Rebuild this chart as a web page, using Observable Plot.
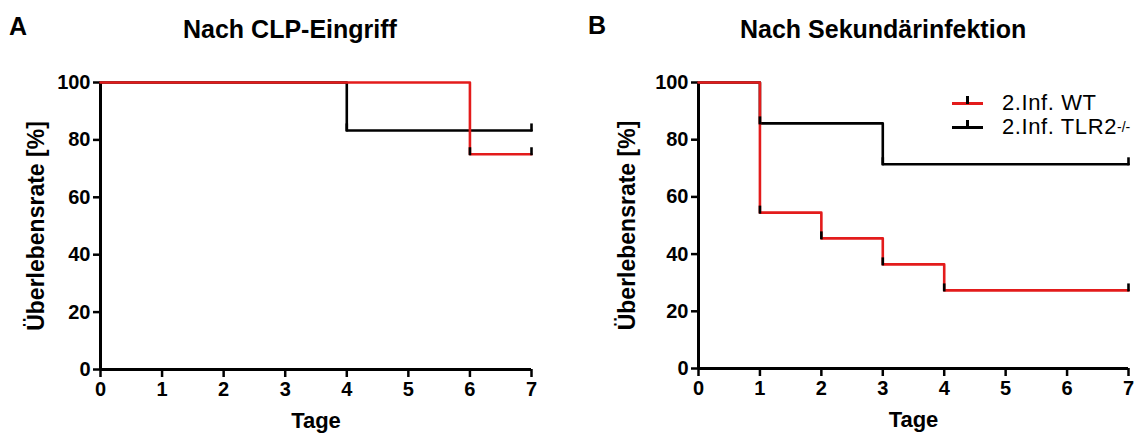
<!DOCTYPE html>
<html>
<head>
<meta charset="utf-8">
<script src="https://cdn.jsdelivr.net/npm/d3@7"></script>
<script src="https://cdn.jsdelivr.net/npm/@observablehq/plot@0.6"></script>
<style>
  html, body { margin: 0; padding: 0; background: #fff; }
  body { font-family: "Liberation Sans", Arial, sans-serif; }
  #wrap { position: relative; width: 1138px; height: 434px; overflow: hidden; }
  .panel { position: absolute; top: 0; }
  .letter { position: absolute; font-weight: bold; font-size: 25px; line-height: 1; color: #000; }
  .title { position: absolute; font-weight: bold; font-size: 25px; line-height: 1; color: #000; white-space: nowrap; }
  .legend { position: absolute; left: 952px; top: 91px; font-size: 22px; letter-spacing: 0.6px; color: #000; line-height: 24px; white-space: nowrap; }
  .legend .item { display: flex; align-items: center; height: 24px; }
  .legend .sw { position: relative; width: 31px; height: 3px; margin-right: 19px; flex: none; }
  .legend .sw::after { content: ""; position: absolute; left: 14px; top: -6px; width: 2.5px; height: 8px; background: #000; }
  .legend sup { font-size: 14px; vertical-align: 10px; line-height: 0; letter-spacing: 0; }
</style>
</head>
<body>
<div id="wrap">
  <div class="letter" style="left:9px; top:14px;">A</div>
  <div class="letter" style="left:588px; top:13px;">B</div>
  <div class="title" style="left:183px; top:17px;">Nach CLP-Eingriff</div>
  <div class="title" style="left:740px; top:17px;">Nach Sekundärinfektion</div>
  <div id="pA" class="panel" style="left:0px;"></div>
  <div id="pB" class="panel" style="left:569px;"></div>
  <div class="legend" id="legend"></div>
</div>
<script>
// ---- data ----
const xTicks = [0, 1, 2, 3, 4, 5, 6, 7];
const yTicks = [0, 20, 40, 60, 80, 100];
const xLabel = "Tage";
const yLabel = "Überlebensrate [%]";

// Panel A: Nach CLP-Eingriff
const aWtTime = [0, 6, 7];
const aWtSurv = [100, 75, 75];
const aKoTime = [0, 4, 7];
const aKoSurv = [100, 83.3, 83.3];

// Panel B: Nach Sekundärinfektion
const bWtTime = [0, 1, 2, 3, 4, 7];
const bWtSurv = [100, 54.5, 45.5, 36.4, 27.3, 27.3];
const bKoTime = [0, 1, 3, 7];
const bKoSurv = [100, 85.7, 71.4, 71.4];

const seriesNames = ["2.Inf. WT", "2.Inf. TLR2"];
const seriesColors = ["#e31b1b", "#000000"];

// ---- helpers ----
function toRows(times, surv) { return times.map((t, i) => ({t, s: surv[i]})); }
function censorRows(times, surv) { return times.slice(1).map((t, i) => ({t, s: surv[i + 1]})); }

const tickSymbol = {
  draw(context) { context.moveTo(0, 1); context.lineTo(0, -7); }
};

function makePanel(wt, ko, margins, yLabelDx) {
  const wtRows = toRows(wt[0], wt[1]);
  const koRows = toRows(ko[0], ko[1]);
  const cens = censorRows(ko[0], ko[1]).concat(censorRows(wt[0], wt[1]));
  return Plot.plot({
    width: 569,
    height: 434,
    marginLeft: margins[0],
    marginRight: margins[1],
    marginTop: 82,
    marginBottom: margins[2],
    style: {fontFamily: "'Liberation Sans', Arial, sans-serif", fontWeight: "bold", color: "#000", background: "transparent", overflow: "visible"},
    x: {domain: [0, 7], axis: null},
    y: {domain: [0, 100], axis: null},
    marks: [
      Plot.axisX(xTicks, {tickSize: 8, tickPadding: 4, fontSize: 20, fontWeight: "bold", strokeWidth: 2.5, label: null, tickFormat: d => String(d)}),
      Plot.axisY(yTicks, {tickSize: 7, tickPadding: 3, fontSize: 20, fontWeight: "bold", strokeWidth: 2.5, label: null, tickFormat: d => String(d)}),
      Plot.ruleX([0], {strokeWidth: 3}),
      Plot.ruleY([0], {strokeWidth: 3}),
      Plot.line(koRows, {x: "t", y: "s", curve: "step-after", stroke: seriesColors[1], strokeWidth: 2.6}),
      Plot.line(wtRows, {x: "t", y: "s", curve: "step-after", stroke: seriesColors[0], strokeWidth: 2.6}),
      Plot.dot(cens, {x: "t", y: "s", symbol: tickSymbol, fill: "none", stroke: "#000", strokeWidth: 2.6}),
      Plot.text([xLabel], {frameAnchor: "bottom", dy: 58, fontSize: 22, fontWeight: "bold"}),
      Plot.text([yLabel], {frameAnchor: "left", textAnchor: "middle", dx: yLabelDx, rotate: -90, fontSize: 23, fontWeight: "bold"})
    ]
  });
}

document.getElementById("pA").append(
  makePanel([aWtTime, aWtSurv], [aKoTime, aKoSurv], [100, 38, 65], -64)
);
document.getElementById("pB").append(
  makePanel([bWtTime, bWtSurv], [bKoTime, bKoSurv], [129, 10, 66], -71)
);

// legend
const leg = document.getElementById("legend");
seriesNames.forEach((name, i) => {
  const item = document.createElement("div");
  item.className = "item";
  const sw = document.createElement("span");
  sw.className = "sw";
  sw.style.background = seriesColors[i];
  item.append(sw);
  const txt = document.createElement("span");
  txt.textContent = name;
  item.append(txt);
  if (i === 1) {
    const sup = document.createElement("sup");
    sup.textContent = "-/-";
    item.append(sup);
  }
  leg.append(item);
});
</script>
</body>
</html>
